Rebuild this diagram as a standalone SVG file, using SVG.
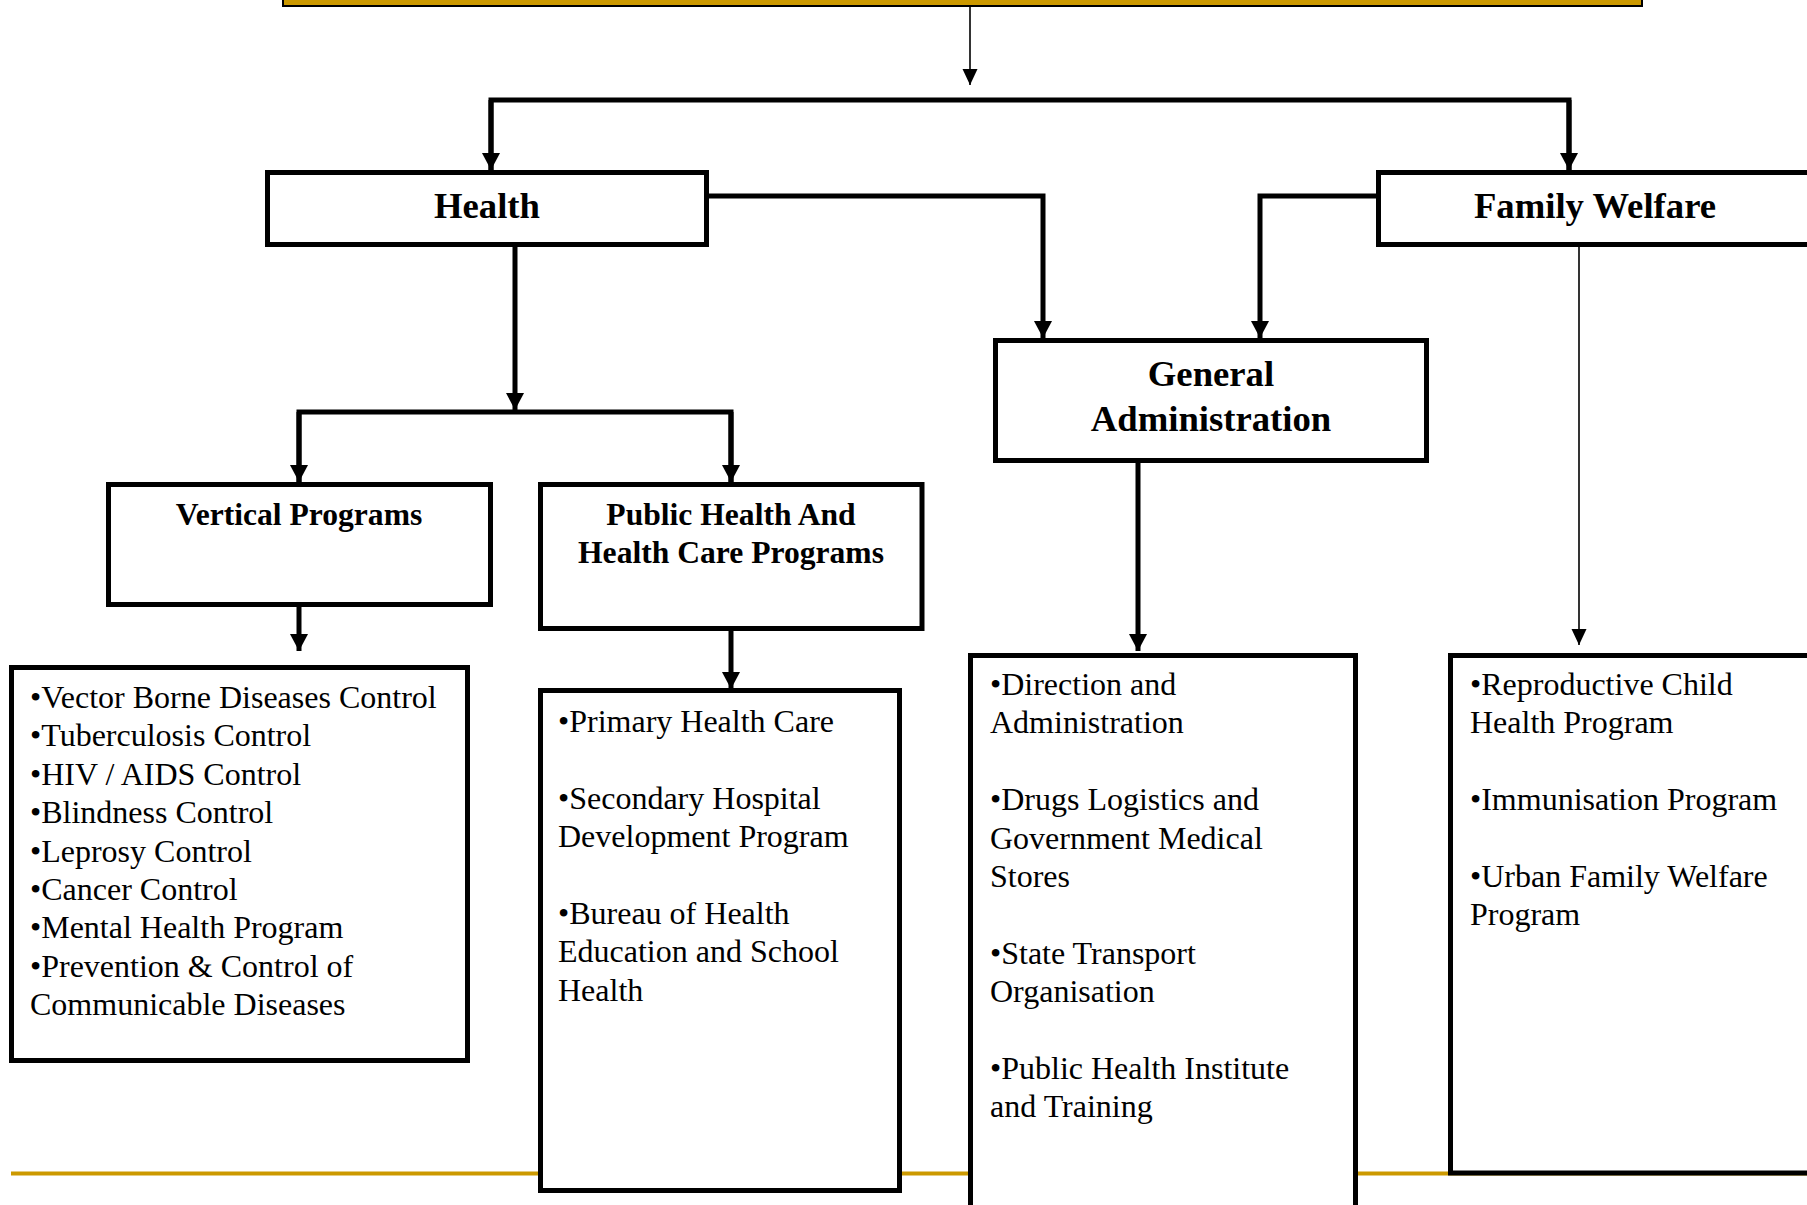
<svg xmlns="http://www.w3.org/2000/svg" width="1807" height="1205" viewBox="0 0 1807 1205">
<defs>
<style>
.box{fill:#fff;stroke:#000;stroke-width:5}
.hd{font-family:"Liberation Serif","Times New Roman",serif;font-weight:bold;text-anchor:middle;fill:#000}
.big{font-size:36.7px}
.mid{font-size:31.6px}
.li{font-family:"Liberation Serif","Times New Roman",serif;font-size:32px;fill:#000}
.thick{fill:none;stroke:#000;stroke-width:5}
.thin{fill:none;stroke:#000;stroke-width:1.6}
</style>
<marker id="ah" markerUnits="userSpaceOnUse" markerWidth="18" markerHeight="18" viewBox="0 0 18 18" refX="17" refY="9" orient="auto">
<path d="M0,0 L17,9 L0,18 Z" fill="#000"/>
</marker>
<marker id="ahs" markerUnits="userSpaceOnUse" markerWidth="16" markerHeight="16" viewBox="0 0 16 16" refX="16" refY="8" orient="auto">
<path d="M0,0.5 L16,8 L0,15.5 Z" fill="#000"/>
</marker>
</defs>
<rect width="1807" height="1205" fill="#fff"/>
<line x1="11" y1="1173.5" x2="1807" y2="1173.5" stroke="#CC9900" stroke-width="4"/>
<g id="top">
<rect x="283" y="-10" width="1359" height="16" fill="#CC9900" stroke="#000" stroke-width="2"/>
</g>
<g id="connectors">
<path class="thin" d="M970,7 V85" marker-end="url(#ahs)"/>
<path class="thick" d="M491,170 V100 H1569 V170"/>
<path class="thick" d="M491,100 V170" marker-end="url(#ah)"/>
<path class="thick" d="M1569,100 V170" marker-end="url(#ah)"/>
<path class="thick" d="M709,196 H1043 V338" marker-end="url(#ah)"/>
<path class="thick" d="M1376,196 H1260 V338" marker-end="url(#ah)"/>
<path class="thick" d="M515,247 V410" marker-end="url(#ah)"/>
<path class="thick" d="M299,482 V412 H731 V482"/>
<path class="thick" d="M299,412 V482" marker-end="url(#ah)"/>
<path class="thick" d="M731,412 V482" marker-end="url(#ah)"/>
<path class="thick" d="M1138,463 V651" marker-end="url(#ah)"/>
<path class="thin" d="M1579,247 V645" marker-end="url(#ahs)"/>
<path class="thick" d="M299,607 V651" marker-end="url(#ah)"/>
<path class="thick" d="M731,619 V689" marker-end="url(#ah)"/>
</g>
<g id="health">
<rect class="box" x="267.5" y="172.5" width="439" height="72"/>
<text class="hd big" x="487" y="218">Health</text>
</g>
<g id="family-welfare">
<rect class="box" x="1378.5" y="172.5" width="500" height="72"/>
<text class="hd big" x="1595" y="218">Family Welfare</text>
</g>
<g id="general-administration">
<rect class="box" x="995.5" y="340.5" width="431" height="120"/>
<text class="hd big" x="1211" y="386">General</text>
<text class="hd big" x="1211" y="431">Administration</text>
</g>
<g id="vertical-programs">
<rect class="box" x="108.5" y="484.5" width="382" height="120"/>
<text class="hd mid" x="299" y="525">Vertical Programs</text>
</g>
<g id="public-health">
<rect class="box" x="540.5" y="484.5" width="381.5" height="144"/>
<text class="hd mid" x="731" y="525">Public Health And</text>
<text class="hd mid" x="731" y="563">Health Care Programs</text>
</g>
<g id="vertical-list">
<rect class="box" x="11.5" y="667.5" width="456" height="393"/>
<text class="li" x="30" y="708">•Vector Borne Diseases Control</text>
<text class="li" x="30" y="746.4">•Tuberculosis Control</text>
<text class="li" x="30" y="784.8">•HIV / AIDS Control</text>
<text class="li" x="30" y="823.2">•Blindness Control</text>
<text class="li" x="30" y="861.6">•Leprosy Control</text>
<text class="li" x="30" y="900">•Cancer Control</text>
<text class="li" x="30" y="938.4">•Mental Health Program</text>
<text class="li" x="30" y="976.8">•Prevention &amp; Control of</text>
<text class="li" x="30" y="1015.2">Communicable Diseases</text>
</g>
<g id="public-health-list">
<rect class="box" x="540.5" y="690.5" width="359" height="500"/>
<text class="li" x="558" y="732">•Primary Health Care</text>
<text class="li" x="558" y="808.8">•Secondary Hospital</text>
<text class="li" x="558" y="847.2">Development Program</text>
<text class="li" x="558" y="924">•Bureau of Health</text>
<text class="li" x="558" y="962.4">Education and School</text>
<text class="li" x="558" y="1000.8">Health</text>
</g>
<g id="general-admin-list">
<rect class="box" x="970.5" y="655.5" width="385" height="600"/>
<text class="li" x="990" y="695">•Direction and</text>
<text class="li" x="990" y="733.4">Administration</text>
<text class="li" x="990" y="810.2">•Drugs Logistics and</text>
<text class="li" x="990" y="848.6">Government Medical</text>
<text class="li" x="990" y="887">Stores</text>
<text class="li" x="990" y="963.8">•State Transport</text>
<text class="li" x="990" y="1002.2">Organisation</text>
<text class="li" x="990" y="1079">•Public Health Institute</text>
<text class="li" x="990" y="1117.4">and Training</text>
</g>
<g id="family-welfare-list">
<rect class="box" x="1450.5" y="655.5" width="400" height="517.5"/>
<text class="li" x="1470" y="695">•Reproductive Child</text>
<text class="li" x="1470" y="733.4">Health Program</text>
<text class="li" x="1470" y="810.2">•Immunisation Program</text>
<text class="li" x="1470" y="887">•Urban Family Welfare</text>
<text class="li" x="1470" y="925.4">Program</text>
</g>
</svg>
